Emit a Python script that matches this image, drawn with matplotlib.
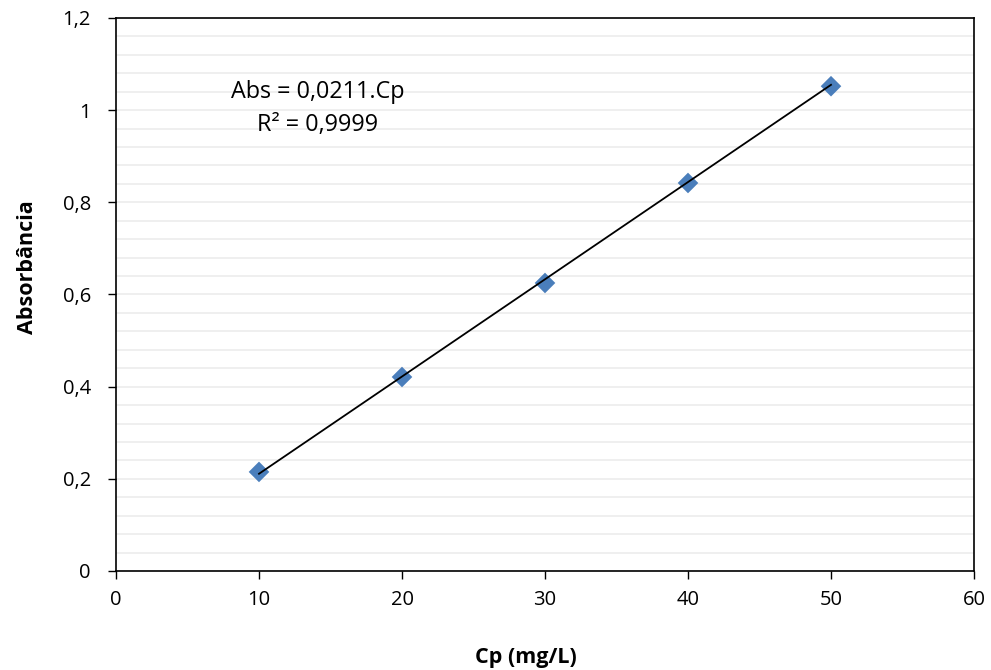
import matplotlib.pyplot as plt
from matplotlib.ticker import MultipleLocator, FuncFormatter

plt.rcParams['font.family'] = ['Open Sans', 'DejaVu Sans']

cp = [10, 20, 30, 40, 50]
absorb = [0.215, 0.421, 0.625, 0.842, 1.052]
slope = 0.0211
r2_text = "R² = 0,9999"
eq_text = "Abs = 0,0211.Cp"

fig = plt.figure(figsize=(9.91, 6.7), dpi=100)
ax = fig.add_axes([116 / 991, 1 - 571 / 670, 858 / 991, 553 / 670])

# light minor grid
ax.yaxis.set_minor_locator(MultipleLocator(0.04))
ax.grid(which='minor', axis='y', color='#ececec', lw=1.2)
ax.grid(which='major', axis='y', color='#ececec', lw=1.2)
ax.set_axisbelow(True)

fit_y = [slope * x for x in cp]
ax.plot([cp[0], cp[-1]], [fit_y[0], fit_y[-1]], color='black', lw=1.3, zorder=3)
ax.scatter(cp, absorb, marker='D', s=110, color='#4a7ebb', edgecolors='none', zorder=2)

ax.set_xlim(0, 60)
ax.set_ylim(0, 1.2)
ax.xaxis.set_major_locator(MultipleLocator(10))
ax.yaxis.set_major_locator(MultipleLocator(0.2))

def comma(v, pos):
    s = f"{v:.1f}".rstrip('0').rstrip('.')
    return s.replace('.', ',')

ax.yaxis.set_major_formatter(FuncFormatter(comma))
ax.tick_params(which='major', direction='out', length=6, width=1, labelsize=14.5)
ax.tick_params(axis='x', pad=8)
ax.tick_params(axis='y', pad=12)
ax.tick_params(which='minor', length=0)
for s in ax.spines.values():
    s.set_linewidth(1.2)

ax.set_xlabel("Cp (mg/L)", fontsize=15.5, fontweight='bold', va='center')
ax.set_ylabel("Absorbância", fontsize=15.5, fontweight='bold', va='center')
ax.xaxis.set_label_coords(0.478, -0.156)
ax.yaxis.set_label_coords(-0.1026, 0.55)

ax.text(14.1, 1.04, eq_text, ha='center', va='center', fontsize=16.8)
ax.text(14.1, 0.968, r2_text, ha='center', va='center', fontsize=16.8)

fig.savefig("out.png", dpi=100)
